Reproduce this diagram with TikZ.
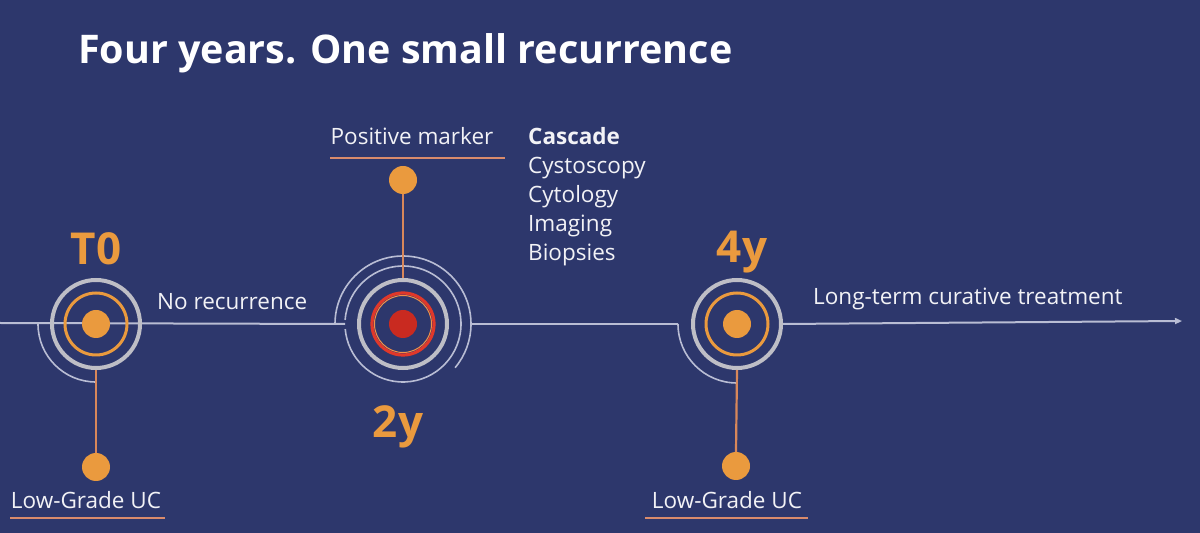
\documentclass[tikz,border=0pt]{standalone}
\usepackage{fontspec}
\setmainfont{Open Sans}
\usetikzlibrary{arrows.meta}
\definecolor{bgnavy}{HTML}{2D376C}
\definecolor{orng}{HTML}{EA9A3E}
\definecolor{ringgrey}{HTML}{BEBEC6}
\definecolor{linegrey}{HTML}{B9BDD4}
\definecolor{salmon}{HTML}{D8875A}
\definecolor{uline}{HTML}{D98B6C}
\definecolor{txt}{HTML}{F2F2F6}
\definecolor{redcore}{HTML}{C92A20}
\definecolor{redring}{HTML}{E0382A}
\definecolor{redglow}{HTML}{F29048}
\pgfdeclarelayer{bg}
\pgfsetlayers{bg,main}
\tikzset{
  greyring/.style={circle,draw=ringgrey,line width=4pt,minimum size=88pt,inner sep=0pt},
  orangering/.style={circle,draw=orng,line width=3pt,minimum size=62pt,inner sep=0pt},
  dotnode/.style={circle,fill=orng,minimum size=28pt,inner sep=0pt},
  reddot/.style={circle,fill=redcore,minimum size=28pt,inner sep=0pt},
  redringst/.style={circle,draw=redring,line width=3.2pt,minimum size=62pt,inner sep=0pt},
  thinarc/.style={draw=linegrey,line width=1.6pt},
  hline/.style={draw=linegrey,line width=2pt},
  stem/.style={draw=salmon,line width=2.2pt},
  ulinest/.style={draw=uline,line width=2.6pt},
  bodytxt/.style={text=txt,font=\fontsize{22.5}{26}\selectfont,inner sep=0pt},
  bigtxt/.style={text=orng,font=\fontsize{44}{48}\selectfont\bfseries,inner sep=0pt},
}
\begin{document}
\begin{tikzpicture}[x=1pt,y=1pt]
\begin{pgfonlayer}{bg}
\fill[bgnavy] (0,0) rectangle (1200,533);
\end{pgfonlayer}
\useasboundingbox (0,0) rectangle (1200,533);

% title
\node[anchor=base west,inner sep=0pt,text=white] (title) at (78,469)
  {\resizebox{654pt}{!}{\bfseries Four years. One small recurrence}};

% T0 node
\node[greyring] (t0) at (96,209) {};
\node[orangering] (t0o) at (t0.center) {};
\node[dotnode] (t0c) at (t0.center) {};
\node[dotnode] (t0d) at (96,66) {};
\node[bigtxt,anchor=base] (t0lab) at (96,268) {T0};
\node[bodytxt,anchor=base] (t0txt) at (86,24) {Low-Grade UC};
\coordinate (t0uL) at (10,15);
\coordinate (t0uR) at (165,15);

% 2y node
\node[greyring] (y2) at (403,209) {};
\node[redringst] (y2o) at (y2.center) {};
\node[circle,draw=redglow,line width=1pt,minimum size=57pt,inner sep=0pt] (y2g) at (y2.center) {};
\node[reddot] (y2c) at (y2.center) {};
\node[dotnode] (y2d) at (403,353) {};
\node[bigtxt,anchor=base] (y2lab) at (398,95) {2y};
\node[bodytxt,anchor=base] (pmtxt) at (412,388) {Positive marker};
\coordinate (pmuL) at (330,375);
\coordinate (pmuR) at (505,375);

% cascade list
\node[bodytxt,anchor=base west] (c1) at (528,388) {\bfseries Cascade};
\node[bodytxt,anchor=base west] (c2) at (528,359) {Cystoscopy};
\node[bodytxt,anchor=base west] (c3) at (528,330) {Cytology};
\node[bodytxt,anchor=base west] (c4) at (528,301) {Imaging};
\node[bodytxt,anchor=base west] (c5) at (528,272) {Biopsies};

% 4y node
\node[greyring] (y4) at (737,209) {};
\node[orangering] (y4o) at (y4.center) {};
\node[dotnode] (y4c) at (y4.center) {};
\node[dotnode] (y4d) at (736,67) {};
\node[bigtxt,anchor=base] (y4lab) at (742,270) {4y};
\node[bodytxt,anchor=base] (y4txt) at (727,24) {Low-Grade UC};
\coordinate (y4uL) at (645,15);
\coordinate (y4uR) at (808,15);

% labels on the line
\node[bodytxt,anchor=base west] (norec) at (157,223) {No recurrence};
\node[bodytxt,anchor=base west] (ltc) at (813,228) {Long-term curative treatment};

% line coordinates
\coordinate (L0) at (0,210);
\coordinate (y2in) at ([shift={(180:58)}]y2.center);
\coordinate (y2out) at ([shift={(0:67)}]y2.center);
\coordinate (y4in) at ([shift={(180:59)}]y4.center);
\coordinate (arrowend) at (1182,212);

\begin{pgfonlayer}{bg}
\draw[hline] (L0) -- (y2in);
\draw[hline] (y2out) -- (y4in);
\draw[hline,-{Triangle[length=7pt,width=6pt]}] (y4.east) -- (arrowend);
\end{pgfonlayer}

% arcs
\draw[thinarc] ([shift={(180:58)}]t0.center) arc[start angle=180,end angle=270,radius=58];
\draw[thinarc] ([shift={(180:68)}]y2.center) arc[start angle=180,end angle=-40,radius=68];
\draw[thinarc] ([shift={(176:58)}]y2.center) arc[start angle=176,end angle=-175,radius=58];
\draw[thinarc] (y4in) arc[start angle=180,end angle=270,radius=59];

% stems
\draw[stem] (t0.south) -- (t0d.north);
\draw[stem] (y2.north) -- (y2d.south);
\draw[stem] (y4.south) -- (y4d.north);

% underlines
\draw[ulinest] (t0uL) -- (t0uR);
\draw[ulinest] (y4uL) -- (y4uR);
\draw[ulinest] (pmuL) -- (pmuR);
\end{tikzpicture}
\end{document}
